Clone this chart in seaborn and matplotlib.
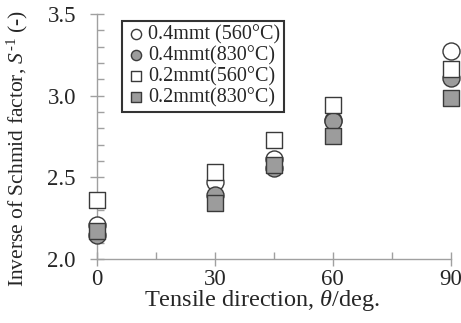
import numpy as np
import pandas as pd
import seaborn as sns
import matplotlib.pyplot as plt
from matplotlib.ticker import MultipleLocator

sns.set_style("white")
plt.rcParams['font.family'] = ['Liberation Serif', 'DejaVu Serif']
plt.rcParams['mathtext.fontset'] = 'custom'
plt.rcParams['mathtext.rm'] = 'Liberation Serif'
plt.rcParams['mathtext.it'] = 'Liberation Serif:style=italic'

theta = [0, 30, 45, 60, 90]
s_04_560 = [2.21, 2.47, 2.61, 2.85, 3.27]
s_04_830 = [2.15, 2.39, 2.56, 2.845, 3.11]
s_02_560 = [2.36, 2.535, 2.73, 2.94, 3.16]
s_02_830 = [2.17, 2.345, 2.575, 2.755, 2.985]
labels = ['0.4mmt (560°C)', '0.4mmt(830°C)', '0.2mmt(560°C)', '0.2mmt(830°C)']

series = [s_04_560, s_04_830, s_02_560, s_02_830]
markers = ['o', 'o', 's', 's']
fills = ['white', '#9c9c9c', 'white', '#9c9c9c']
sizes = [150, 150, 120, 120]

fig = plt.figure(figsize=(4.61, 3.23), dpi=100)
ax = fig.add_axes([0.21, 0.198, 0.768, 0.759])

for vals, lab, m, fc, sz in zip(series, labels, markers, fills, sizes):
    df = pd.DataFrame({'theta': theta, 'S': vals})
    sns.scatterplot(data=df, x='theta', y='S', marker=m, s=sz, color=fc,
                    edgecolor='#3a3a3a', linewidth=1.0, label=lab, ax=ax,
                    zorder=3, clip_on=False)

ax.set_xlim(0, 90)
ax.set_ylim(2.0, 3.5)
ax.set_xticks([0, 30, 60, 90])
ax.set_yticks([2.0, 2.5, 3.0, 3.5])
ax.set_yticklabels(['2.0', '2.5', '3.0', '3.5'])
ax.xaxis.set_minor_locator(MultipleLocator(15))
ax.yaxis.set_minor_locator(MultipleLocator(0.1))

for side in ['top', 'right']:
    ax.spines[side].set_visible(False)
for side in ['left', 'bottom']:
    ax.spines[side].set_color('#a0a0a0')
    ax.spines[side].set_linewidth(1.0)
    ax.spines[side].set_zorder(1)

ax.tick_params(which='major', direction='inout', length=10, width=1.0,
               color='#a0a0a0', labelsize=16.5, left=True, bottom=True)
ax.tick_params(which='minor', direction='in', length=5, width=1.0,
               color='#a0a0a0', left=True, bottom=True)
ax.tick_params(axis='y', which='major', pad=10)
ax.tick_params(axis='x', which='major', pad=2)

ax.set_xlabel(r'Tensile direction, $\theta$/deg.', fontsize=17.5)
ax.xaxis.set_label_coords(0.467, -0.12)
ax.set_ylabel(r'Inverse of Schmid factor, $S^{\text{-}1}$ (-)', fontsize=15.5)
ax.yaxis.set_label_coords(-0.19, 0.45)

leg = ax.legend(loc='upper left', bbox_to_anchor=(0.07, 0.971), borderaxespad=0,
                fontsize=14.5, frameon=True, fancybox=False, markerscale=0.6,
                handletextpad=0.1, handlelength=1.0, borderpad=0.2, labelspacing=0.08)
leg.get_frame().set_edgecolor('black')
leg.get_frame().set_linewidth(1.5)

fig.savefig('out.png', dpi=100)
